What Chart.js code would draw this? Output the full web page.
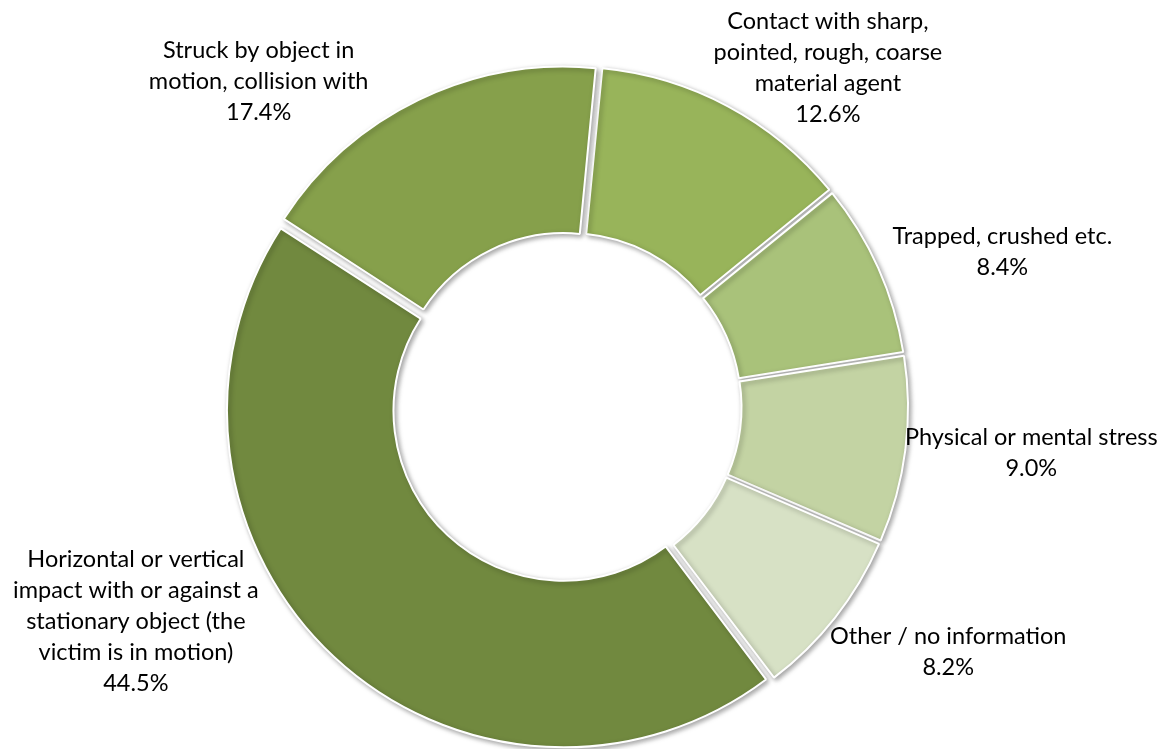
<!DOCTYPE html>
<html>
<head>
<meta charset="utf-8">
<script src="https://cdn.jsdelivr.net/npm/chart.js@4/dist/chart.umd.min.js"></script>
<style>
  body { margin: 0; background: #fff; }
</style>
</head>
<body>
<canvas id="accidents" width="1169" height="749"></canvas>
<script>
// categories (one entry per slice, split into label lines) and shares in %
var categories = [
  ["Contact with sharp,", "pointed, rough, coarse", "material agent"],
  ["Trapped, crushed etc."],
  ["Physical or mental stress"],
  ["Other / no information"],
  ["Horizontal or vertical", "impact with or against a", "stationary object (the", "victim is in motion)"],
  ["Struck by object in", "motion, collision with"],
];
var shares = [12.6, 8.4, 9.0, 8.2, 44.5, 17.4];

// label block shift from the slice's outer mid point
var labelNudge = [
  [100, -38],
  [124, -16],
  [126, 3],
  [113, 34],
  [-199, -35],
  [-160, -19],
];

var shadowPlugin = {
  id: "shadow",
  beforeDatasetsDraw: function (chart) {
    var ctx = chart.ctx;
    ctx.save();
    ctx.shadowColor = "rgba(0,0,0,0.35)";
    ctx.shadowBlur = 5;
    ctx.shadowOffsetX = 2;
    ctx.shadowOffsetY = 2;
  },
  afterDatasetsDraw: function (chart) {
    chart.ctx.restore();
  },
};

var outsideLabels = {
  id: "outsideLabels",
  afterDraw: function (chart) {
    var ctx = chart.ctx;
    var meta = chart.getDatasetMeta(0);
    ctx.save();
    ctx.font = "23.5px Lato";
    ctx.fillStyle = "#000";
    ctx.textAlign = "center";
    ctx.textBaseline = "middle";
    var lineH = 31;
    meta.data.forEach(function (arc, i) {
      var p = arc.getProps(["x", "y", "startAngle", "endAngle", "outerRadius"], true);
      var mid = (p.startAngle + p.endAngle) / 2;
      var r = p.outerRadius + 8;
      var cx = p.x + Math.cos(mid) * r + labelNudge[i][0];
      var cy = p.y + Math.sin(mid) * r + labelNudge[i][1];
      var lines = categories[i].concat([shares[i].toFixed(1) + "%"]);
      var y0 = cy - ((lines.length - 1) / 2) * lineH;
      lines.forEach(function (t, k) {
        ctx.fillText(t, cx, y0 + k * lineH);
      });
    });
    ctx.restore();
  },
};

var ctx = document.getElementById("accidents").getContext("2d");
var myChart = new Chart(ctx, {
  type: "doughnut",
  data: {
    labels: categories,
    datasets: [
      {
        data: shares,
        backgroundColor: ["#98B45A", "#A9C27A", "#C3D3A3", "#D7E1C5", "#71893F", "#86A04B"],
        borderColor: "#fff",
        borderWidth: 2,
        // chart.js shifts an arc by offset/4 plus extra for narrow slices; these give ~8px each
        offset: [25, 21, 22, 21, 21, 29],
        hoverOffset: 0,
      },
    ],
  },
  options: {
    responsive: false,
    animation: false,
    rotation: 5.5,
    radius: 333,
    cutout: "50%",
    layout: { padding: { left: 0, right: 35, top: 65, bottom: 0 } },
    plugins: {
      legend: { display: false },
      tooltip: { enabled: false },
    },
  },
  plugins: [shadowPlugin, outsideLabels],
});
</script>
</body>
</html>
